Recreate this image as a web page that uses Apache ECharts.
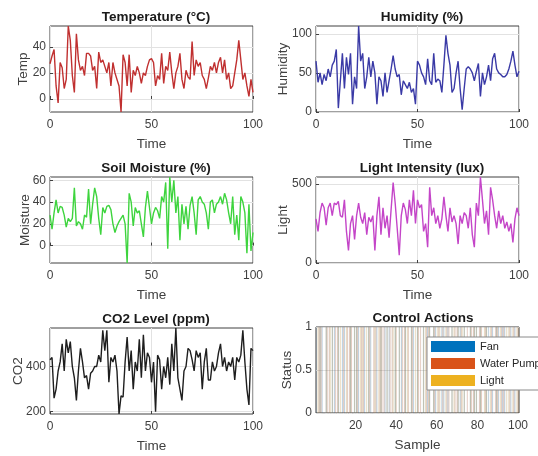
<!DOCTYPE html>
<html>
<head>
<meta charset="utf-8">
<script src="https://cdn.jsdelivr.net/npm/echarts@6/dist/echarts.min.js"></script>
<style>
  html, body { margin: 0; padding: 0; background: #fff; }
  #chart { width: 538px; height: 456px; }
</style>
</head>
<body>
<div id="chart"></div>
<script>
  // time axis 0..100
  const time = []
  for (let i = 0; i <= 100; i++) time.push(i)

  const temperature = [27, 33, 38, 10, -3, 28, 24, 8, 15, 56, 45, 18, 5, 50, 30, 22, 25, 18, 35, 35,
    33, 22, 25, 8, 36, 28, 30, 25, 20, 28, 10, 28, 20, 15, 10, -10, 34, 28, 10, 34,
    5, 22, 18, 25, 20, 12, 20, 18, 25, 30, 31, 28, 10, 18, 15, 35, 12, 25, 22, 36,
    20, 8, 20, 25, 35, 15, 8, 22, 17, 15, 44, 18, 30, 25, 28, 18, 15, 8, 16, 25,
    22, 28, 20, 28, 32, 20, 30, 15, 20, 8, 10, 20, 30, 45, 30, 15, 20, 10, 2, 15, 5]

  const humidity = [65, 38, 50, 35, 48, 40, 55, 45, 60, 65, 80, 5, 40, 75, 30, 70, 48, 75, 10, 45,
    30, 110, 65, 75, 30, 45, 70, 45, 65, 50, 10, 45, 40, 20, 50, 25, 40, 55, 72, 55,
    45, 48, 22, 40, 35, 30, 38, 25, 30, 10, 65, 60, 50, 45, 35, 68, 40, 35, 75, 38,
    42, 40, 25, 60, 98, 75, 60, 25, 30, 50, 65, 30, 3, 30, 55, 58, 55, 50, 40, 52,
    62, 20, 50, 35, 45, 60, 40, 68, 75, 55, 50, 48, 45, 45, 48, 55, 65, 78, 60, 45, 52]

  const moisture = [28, 15, 30, 42, 30, 36, 35, 28, 17, 25, 22, 25, 53, 18, 22, 20, 15, 28, 26, 52,
    20, 38, 53, 45, 25, 10, 35, 30, 36, 37, 33, 20, 12, 18, 22, 25, 28, 20, -16, 48,
    40, 18, 35, 30, 32, 20, 8, 35, 50, 35, 20, 30, 35, 32, 25, 45, 40, 58, -3, 63,
    40, 60, 30, 45, 5, 38, 20, 36, 15, 37, 45, 30, 10, 42, 45, 40, 38, 30, 15, 40,
    42, 30, 38, 40, 45, 38, 48, 42, 30, 20, 45, 10, 28, 5, 45, 40, 30, -7, 38, -5, 12]

  const light = [280, 200, 320, 380, 350, 240, 350, 380, 300, 380, 370, 390, 300, 290, 400, 200, 80, 250, 300, 150,
    300, 380, 290, 250, 320, 180, 290, 260, 300, 80, 300, 420, 180, 350, 220, 300, 160, 340, 510, 380,
    220, 50, 300, 380, 340, 250, 400, 300, 460, 250, 400, 350, 370, 200, 250, 100, 480, 300, 350, 250,
    300, 220, 280, 420, 300, 200, 350, 260, 300, 250, 120, 300, 250, 320, 300, 220, 350, 180, 100, 380,
    300, 545, 400, 250, 330, 180, 480, 400, 300, 220, 330, 250, 300, 220, 260, 200, 250, 130, 280, 350, 300]

  const co2 = [430, 440, 260, 300, 380, 420, 500, 380, 520, 460, 510, 400, 350, 250, 380, 480, 420, 350, 360, 300,
    370, 380, 400, 400, 450, 420, 560, 470, 560, 330, 440, 420, 450, 380, 190, 270, 265, 420, 530, 380,
    470, 300, 420, 380, 520, 350, 540, 380, 460, 440, 330, 420, 200, 450, 430, 300, 400, 350, 440, 320,
    500, 380, 570, 350, 300, 250, 380, 400, 480, 470, 430, 380, 470, 440, 460, 300, 420, 480, 340, 340,
    420, 380, 400, 460, 500, 400, 440, 380, 420, 400, 440, 340, 440, 420, 450, 560, 420, 300, 230, 480, 470]

  // control actions, samples 1..100
  const samples = []
  for (let i = 1; i <= 100; i++) samples.push(String(i))
  const fan = [1,0,1,1,0,1,0,0,1,1, 0,1,0,1,1,0,0,1,0,1, 1,1,0,0,1,0,1,1,0,0, 1,0,1,0,1,1,1,0,0,1,
    0,1,1,0,1,0,0,1,1,0, 1,0,0,1,0,1,1,0,1,1, 0,0,1,1,0,1,0,1,0,0, 1,1,0,1,0,0,1,0,1,1,
    0,1,0,0,1,1,0,1,0,1, 1,0,1,1,0,0,1,0,1,0]
  const pump = [0,1,1,0,0,1,1,0,0,1, 1,0,0,1,0,1,1,1,0,0, 1,0,1,1,0,0,1,0,1,1, 0,1,1,1,0,0,1,1,0,1,
    0,0,1,1,0,1,0,1,0,0, 1,1,0,0,1,1,0,0,1,0, 1,0,1,0,1,1,0,0,1,1, 0,1,0,0,1,0,1,1,0,0,
    1,1,0,1,0,0,1,0,1,1, 0,1,1,0,0,1,0,1,0,1]
  const lamp = [1,1,0,0,1,0,1,1,0,0, 1,1,0,0,1,0,1,0,1,1, 0,1,1,0,1,1,0,0,1,0, 1,1,0,0,1,0,0,1,1,0,
    1,0,0,1,1,0,1,0,1,1, 0,0,1,1,0,1,0,1,0,1, 1,0,0,1,0,0,1,1,0,1, 0,1,1,0,0,1,0,1,1,0,
    1,0,1,1,0,1,0,0,1,0, 1,0,0,1,1,0,1,0,1,1]

  const font = 'Liberation Sans'
  const tickColor = '#404040'
  const gridColor = '#e2e2e2'

  const panels = [
    { title: 'Temperature (°C)', yName: 'Temp', data: temperature, color: '#c03030', ticks: [0, 20, 40], min: 'dataMin', left: 50, top: 26, yGap: 20 },
    { title: 'Humidity (%)', yName: 'Humidity', data: humidity, color: '#3a3aa6', ticks: [0, 50, 100], min: 0, left: 316, top: 26, yGap: 26 },
    { title: 'Soil Moisture (%)', yName: 'Moisture', data: moisture, color: '#3ed43e', ticks: [0, 20, 40, 60], min: 'dataMin', left: 50, top: 177, yGap: 18 },
    { title: 'Light Intensity (lux)', yName: 'Light', data: light, color: '#c445c8', ticks: [0, 500], min: 0, left: 316, top: 177, yGap: 26 },
    { title: 'CO2 Level (ppm)', yName: 'CO2', data: co2, color: '#1e1e1e', ticks: [200, 400], min: 'dataMin', left: 50, top: 328, yGap: 25 },
  ]

  const chart = echarts.init(document.getElementById('chart'))

  const grid = []
  const xAxis = []
  const yAxis = []
  const series = []
  const title = []

  panels.forEach((p, i) => {
    grid.push({ left: p.left, top: p.top, width: 203, height: 86, show: true, borderColor: '#404040', borderWidth: 1, backgroundColor: '#fff' })
    title.push({
      text: p.title, left: p.left + 101, top: p.top - 21, textAlign: 'center',
      textStyle: { fontFamily: font, fontSize: 13.5, fontWeight: 'bold', color: '#1a1a1a' }
    })
    xAxis.push({
      type: 'value', gridIndex: i, min: 0, max: 100, interval: 50,
      name: 'Time', nameLocation: 'middle', nameGap: 25, nameMoveOverlap: false,
      nameTextStyle: { fontFamily: font, fontSize: 13.5, color: tickColor },
      axisLine: { show: false },
      axisTick: { inside: true, length: 3, lineStyle: { color: '#404040' } },
      axisLabel: { fontFamily: font, fontSize: 12, color: tickColor, margin: 7 },
      splitLine: { show: true, lineStyle: { color: gridColor, width: 1 } }
    })
    yAxis.push({
      type: 'value', gridIndex: i, min: p.min, max: 'dataMax',
      name: p.yName, nameLocation: 'middle', nameGap: p.yGap, nameMoveOverlap: false,
      nameTextStyle: { fontFamily: font, fontSize: 13.5, color: tickColor },
      axisLine: { show: false },
      axisTick: { inside: true, length: 3, customValues: p.ticks, lineStyle: { color: '#404040' } },
      axisLabel: { fontFamily: font, fontSize: 12, color: tickColor, margin: 4, customValues: p.ticks },
      splitLine: { show: true, lineStyle: { color: gridColor, width: 1 } }
    })
    series.push({
      type: 'line', xAxisIndex: i, yAxisIndex: i,
      data: time.map((t, k) => [t, p.data[k]]),
      symbol: 'none', lineStyle: { color: p.color, width: 1.4 }
    })
  })

  // control actions panel
  grid.push({ left: 316, top: 327, width: 203, height: 86, show: true, borderColor: '#404040', borderWidth: 1, backgroundColor: '#fff' })
  title.push({
    text: 'Control Actions', left: 418, top: 306, textAlign: 'center',
    textStyle: { fontFamily: font, fontSize: 13.5, fontWeight: 'bold', color: '#1a1a1a' }
  })
  xAxis.push({
    type: 'category', gridIndex: 5, data: samples,
    name: 'Sample', nameLocation: 'middle', nameGap: 25, nameMoveOverlap: false,
    nameTextStyle: { fontFamily: font, fontSize: 13.5, color: tickColor },
    axisLine: { show: false },
    axisTick: { inside: true, length: 3, alignWithLabel: true, interval: (idx, v) => Number(v) % 20 === 0, lineStyle: { color: '#404040' } },
    axisLabel: { fontFamily: font, fontSize: 12, color: tickColor, margin: 7, interval: (idx, v) => Number(v) % 20 === 0 },
    splitLine: { show: false }
  })
  yAxis.push({
    type: 'value', gridIndex: 5, min: 0, max: 1, interval: 0.5,
    name: 'Status', nameLocation: 'middle', nameGap: 22, nameMoveOverlap: false,
    nameTextStyle: { fontFamily: font, fontSize: 13.5, color: tickColor },
    axisLine: { show: false },
    axisTick: { inside: true, length: 3, lineStyle: { color: '#404040' } },
    axisLabel: { fontFamily: font, fontSize: 12, color: tickColor, margin: 4 },
    splitLine: { show: true, lineStyle: { color: gridColor, width: 1 } }
  })
  const actionSets = [['Fan', fan, '#0072BD'], ['Water Pump', pump, '#D95319'], ['Light', lamp, '#EDB120']]
  actionSets.forEach(([name, vals, color]) => {
    series.push({
      type: 'bar', name: name, xAxisIndex: 5, yAxisIndex: 5, data: vals,
      barGap: '0%', barCategoryGap: '20%',
      itemStyle: { color: color, opacity: 0.3, borderColor: 'rgba(60,60,60,0.5)', borderWidth: 0.4 }
    })
  })

  chart.setOption({
    animation: false,
    backgroundColor: '#fff',
    title: title,
    grid: grid,
    xAxis: xAxis,
    yAxis: yAxis,
    series: series,
    legend: {
      orient: 'vertical', left: 427, top: 337,
      icon: 'rect', itemWidth: 44, itemHeight: 11, itemGap: 6,
      padding: [4, 4, 4, 4],
      backgroundColor: '#fff', borderColor: '#8a8a8a', borderWidth: 1,
      textStyle: { fontFamily: font, fontSize: 11, color: '#262626' },
      data: actionSets.map(([name, vals, color]) => ({ name: name, itemStyle: { color: color, opacity: 1, borderWidth: 0 } }))
    }
  })
</script>
</body>
</html>
